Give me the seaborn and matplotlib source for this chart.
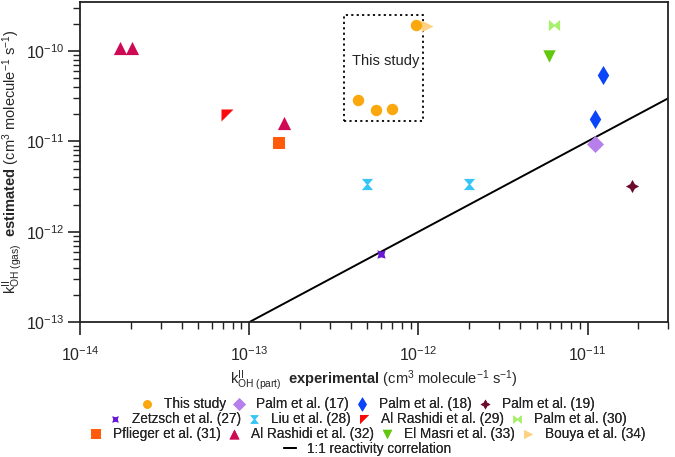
import matplotlib
matplotlib.use("Agg")
import matplotlib.pyplot as plt
import pandas as pd
import seaborn as sns
from matplotlib.patches import Rectangle

# k''OH experimental (x) vs estimated (y), cm3 molecule-1 s-1
this_study_x = [9.7e-13, 4.4e-13, 5.6e-13, 7.0e-13]
this_study_y = [1.93e-10, 2.9e-11, 2.25e-11, 2.3e-11]
palm17_x, palm17_y = [1.11e-11], [9.3e-12]
palm18_x, palm18_y = [1.23e-11, 1.11e-11], [5.45e-11, 1.75e-11]
palm19_x, palm19_y = [1.82e-11], [3.2e-12]
zetzsch27_x, zetzsch27_y = [6.0e-13], [5.7e-13]
liu28_x, liu28_y = [5.0e-13, 2.0e-12], [3.4e-12, 3.4e-12]
rashidi29_x, rashidi29_y = [7.4e-14], [1.98e-11]
palm30_x, palm30_y = [6.3e-12], [1.93e-10]
pflieger31_x, pflieger31_y = [1.5e-13], [9.5e-12]
rashidi32_x = [1.72e-14, 2.03e-14, 1.61e-13]
rashidi32_y = [1.08e-10, 1.08e-10, 1.6e-11]
masri33_x, masri33_y = [5.9e-12], [8.8e-11]
bouya34_x, bouya34_y = [1.13e-12], [1.88e-10]

one_to_one = [1e-13, 3e-11]
box_x = [3.65e-13, 1.07e-12]
box_y = [1.70e-11, 2.49e-10]
x_ticks = [1e-14, 1e-13, 1e-12, 1e-11]
y_ticks = [1e-13, 1e-12, 1e-11, 1e-10]

hourglass = [(-1, 1), (1, 1), (0.15, 0), (1, -1), (-1, -1), (-0.15, 0), (-1, 1)]
bowtie = [(-1, 1), (0, 0.15), (1, 1), (1, -1), (0, -0.15), (-1, -1), (-1, 1)]
flag = [(-1, 1), (1, 1), (-1, -1), (-1, 1)]

series = [
    ("This study", this_study_x, this_study_y, "#FBA80F", "o", 68, 4),
    ("Palm et al. (17)", palm17_x, palm17_y, "#B67FEB", "D", 75, 3),
    ("Palm et al. (18)", palm18_x, palm18_y, "#0A45FA", "d", 95, 3),
    ("Palm et al. (19)", palm19_x, palm19_y, "#6E0B2C", (4, 1, 0), 90, 3),
    ("Zetzsch et al. (27)", zetzsch27_x, zetzsch27_y, "#6A18D6", (4, 1, 45), 70, 3),
    ("Liu et al. (28)", liu28_x, liu28_y, "#35C5F7", hourglass, 65, 3),
    ("Al Rashidi et al. (29)", rashidi29_x, rashidi29_y, "#FA0A0A", flag, 75, 3),
    ("Palm et al. (30)", palm30_x, palm30_y, "#A7F06A", bowtie, 65, 3),
    ("Pflieger et al. (31)", pflieger31_x, pflieger31_y, "#FF5B0A", "s", 75, 3),
    ("Al Rashidi et al. (32)", rashidi32_x, rashidi32_y, "#CF0A55", "^", 90, 3),
    ("El Masri et al. (33)", masri33_x, masri33_y, "#62C80E", "v", 80, 3),
    ("Bouya et al. (34)", bouya34_x, bouya34_y, "#FDD383", ">", 75, 2),
]

sns.set_style("ticks")
plt.rcParams["font.family"] = ["Liberation Sans", "DejaVu Sans"]
plt.rcParams["mathtext.fontset"] = "custom"
plt.rcParams["mathtext.rm"] = "Liberation Sans"
plt.rcParams["mathtext.it"] = "Liberation Sans:italic"
plt.rcParams["mathtext.bf"] = "Liberation Sans:bold"

fig, ax = plt.subplots(figsize=(6.75, 4.57), dpi=100)
fig.subplots_adjust(left=0.1185, right=0.99, top=0.996, bottom=0.295)

handles = {}
for name, xs, ys, color, marker, size, z in series:
    df = pd.DataFrame({"x": xs, "y": ys})
    sns.scatterplot(data=df, x="x", y="y", ax=ax, color=color, marker=marker,
                    s=size, linewidth=0, zorder=z, label=name, legend=False)
    handles[name] = ax.collections[-1]

line_df = pd.DataFrame({"x": one_to_one, "y": one_to_one})
sns.lineplot(data=line_df, x="x", y="y", ax=ax, color="black", lw=1.4, zorder=2,
             legend=False)
handles["1:1 reactivity correlation"] = ax.lines[-1]
if ax.get_legend() is not None:
    ax.get_legend().remove()

ax.add_patch(Rectangle((box_x[0], box_y[0]), box_x[1] - box_x[0], box_y[1] - box_y[0],
                       fill=False, ls=(0, (1.2, 1.8)), lw=1.3, ec="black", zorder=1))
ax.text(6.4e-13, 7.8e-11, "This study", ha="center", va="center", fontsize=10.5,
        color="#222222")

ax.set_xscale("log")
ax.set_yscale("log")
ax.set_xlim(1e-14, 3e-11)
ax.set_ylim(1e-13, 3.5e-10)
ax.set_xticks(x_ticks)
ax.set_yticks(y_ticks)

for sp in ax.spines.values():
    sp.set_linewidth(1.3)
    sp.set_color("#222222")
ax.tick_params(which="major", length=9, width=1.2, labelsize=11.5, color="#222222")
ax.tick_params(which="minor", length=5, width=1.0, color="#222222")
ax.tick_params(axis="x", which="major", pad=8)
ax.tick_params(axis="y", which="major", pad=2)

ax.set_xlabel(r"k$^{\mathrm{II}}_{\mathrm{OH\ (part)}}$  $\mathbf{experimental}$"
              r" (cm$^{3}$ molecule$^{-1}$ s$^{-1}$)", fontsize=10.5, labelpad=3)
ax.set_ylabel(r"k$^{\mathrm{II}}_{\mathrm{OH\ (gas)}}$  $\mathbf{estimated}$"
              r" (cm$^{3}$ molecule$^{-1}$ s$^{-1}$)", fontsize=10.5)
ax.yaxis.set_label_coords(-0.094, 0.5)

rows = [
    ["This study", "Palm et al. (17)", "Palm et al. (18)", "Palm et al. (19)"],
    ["Zetzsch et al. (27)", "Liu et al. (28)", "Al Rashidi et al. (29)", "Palm et al. (30)"],
    ["Pflieger et al. (31)", "Al Rashidi et al. (32)", "El Masri et al. (33)", "Bouya et al. (34)"],
    ["1:1 reactivity correlation"],
]
row_y = [1 - 404 / 457, 1 - 419 / 457, 1 - 434 / 457, 1 - 449 / 457]
for labels, yy in zip(rows, row_y):
    leg = fig.legend([handles[l] for l in labels], labels, loc="center",
                     bbox_to_anchor=(0.545, yy), ncol=len(labels), frameon=False,
                     fontsize=9.8, handletextpad=0.8, columnspacing=0.5,
                     handlelength=0.9, borderpad=0, borderaxespad=0,
                     markerscale=0.75)
    fig.add_artist(leg)

fig.savefig("out.png", dpi=100)
